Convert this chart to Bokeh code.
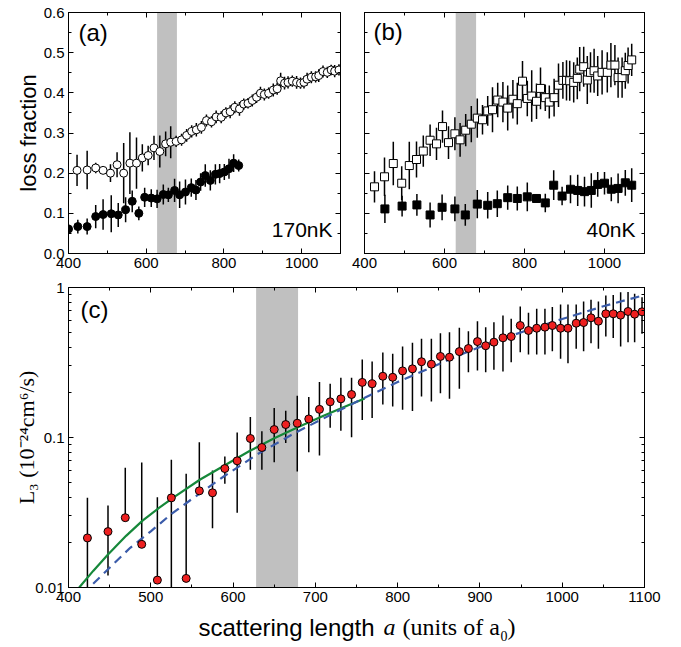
import math
from bokeh.plotting import figure
from bokeh.models import (LinearAxis, LogAxis, Range1d, SingleIntervalTicker, FixedTicker,
                          CustomJSTickFormatter, NumeralTickFormatter, Label, BoxAnnotation)
from bokeh.layouts import column, row
from bokeh.embed import file_html
from bokeh.resources import INLINE

# ---------------- data ----------------
BAND = [628, 679]

# (a) 170 nK
a_open_x = [422, 448, 470, 489, 508, 525, 542, 558, 575, 590, 605, 620, 635, 650, 663, 677, 691, 704,
            717, 729, 742, 755, 768, 780, 793, 805, 816, 828, 840, 851, 862, 873, 884, 894, 904, 915,
            927, 937, 946, 956, 965, 976, 987, 997, 1006, 1014, 1025, 1036, 1044, 1055, 1066, 1076,
            1085, 1096]
a_open_y = [0.207, 0.208, 0.213, 0.207, 0.200, 0.221, 0.200, 0.225, 0.225, 0.238, 0.244, 0.263, 0.254,
            0.273, 0.277, 0.279, 0.283, 0.294, 0.304, 0.308, 0.314, 0.331, 0.328, 0.340, 0.339, 0.350,
            0.353, 0.364, 0.360, 0.372, 0.374, 0.381, 0.389, 0.399, 0.396, 0.399, 0.407, 0.410, 0.430,
            0.424, 0.426, 0.429, 0.426, 0.424, 0.426, 0.434, 0.439, 0.440, 0.443, 0.453, 0.451, 0.457,
            0.454, 0.457]
a_open_err = [0.039, 0.048, 0.013, 0.008, 0.022, 0.031, 0.075, 0.077, 0.064, 0.034,
              0.024, 0.030, 0.040, 0.031, 0.040, 0.014, 0.015, 0.016, 0.015, 0.017,
              0.016, 0.015, 0.014, 0.016, 0.015, 0.014, 0.016, 0.015, 0.017, 0.014,
              0.013, 0.015, 0.014, 0.016, 0.015, 0.014, 0.016, 0.015, 0.020, 0.016,
              0.015, 0.014, 0.016, 0.014, 0.015, 0.016, 0.015, 0.014, 0.016, 0.015,
              0.014, 0.013, 0.015, 0.014]
a_fill_x = [400, 424, 448, 470, 489, 510, 528, 547, 564, 581, 596, 613, 628, 644, 657, 673, 686, 701,
            716, 728, 740, 752, 765, 778, 789, 801, 813, 825, 838]
a_fill_y = [0.061, 0.067, 0.067, 0.092, 0.097, 0.099, 0.096, 0.109, 0.130, 0.100, 0.140, 0.138, 0.136,
            0.147, 0.146, 0.157, 0.146, 0.153, 0.164, 0.158, 0.178, 0.194, 0.182, 0.197, 0.199, 0.203,
            0.211, 0.225, 0.219]
a_fill_err = [0.012, 0.017, 0.020, 0.029, 0.038, 0.046, 0.030, 0.031, 0.027, 0.017, 0.024, 0.022,
              0.023, 0.025, 0.018, 0.029, 0.033, 0.031, 0.023, 0.025, 0.022, 0.028, 0.025, 0.025,
              0.024, 0.020, 0.025, 0.022, 0.015]

# (b) 40 nK
b_open_x = [425, 450, 472, 493, 512, 530, 547, 564, 580, 595, 610, 626, 639, 653, 667, 682, 695, 708,
            720, 733, 746, 758, 771, 782, 795, 807, 818, 830, 840, 852, 862, 874, 885, 896, 905, 913,
            923, 932, 938, 948, 957, 965, 974, 983, 994, 1007, 1016, 1026, 1034, 1044, 1052, 1059, 1068]
b_open_y = [0.166, 0.191, 0.224, 0.175, 0.219, 0.234, 0.255, 0.282, 0.273, 0.316, 0.276, 0.298, 0.283,
            0.307, 0.322, 0.337, 0.333, 0.355, 0.358, 0.382, 0.377, 0.362, 0.384, 0.373, 0.429, 0.386,
            0.392, 0.379, 0.411, 0.388, 0.377, 0.388, 0.419, 0.431, 0.431, 0.430, 0.426, 0.436, 0.459,
            0.465, 0.432, 0.451, 0.455, 0.442, 0.451, 0.451, 0.469, 0.469, 0.438, 0.438, 0.455, 0.468,
            0.482]
b_open_err = [0.039, 0.048, 0.054, 0.042, 0.059, 0.045, 0.039, 0.039, 0.040, 0.040,
              0.041, 0.041, 0.042, 0.040, 0.045, 0.049, 0.037, 0.037, 0.056, 0.043,
              0.050, 0.056, 0.048, 0.052, 0.050, 0.044, 0.064, 0.044, 0.052, 0.033,
              0.041, 0.047, 0.054, 0.046, 0.050, 0.050, 0.050, 0.052, 0.055, 0.050,
              0.060, 0.050, 0.055, 0.050, 0.055, 0.050, 0.055, 0.050, 0.050, 0.050,
              0.045, 0.045, 0.040]
b_fill_x = [451, 494, 531, 564, 594, 626, 652, 682, 708, 732, 758, 782, 807, 830, 852, 873, 894, 915,
            933, 950, 967, 983, 1000, 1017, 1034, 1052, 1068]
b_fill_y = [0.111, 0.118, 0.121, 0.096, 0.115, 0.111, 0.096, 0.123, 0.120, 0.124, 0.139, 0.137, 0.141,
            0.137, 0.126, 0.170, 0.143, 0.160, 0.157, 0.154, 0.157, 0.172, 0.175, 0.160, 0.162, 0.176,
            0.170]
b_fill_err = [0.035, 0.026, 0.027, 0.031, 0.032, 0.031, 0.027, 0.035, 0.033, 0.033, 0.030, 0.030,
              0.036, 0.009, 0.023, 0.037, 0.023, 0.035, 0.039, 0.037, 0.043, 0.031, 0.028, 0.030,
              0.037, 0.032, 0.042]

# (c) L3 (10^-24 cm^6/s)
c_x = [423, 448, 469, 489, 508, 525, 543, 559, 575, 590, 605, 621, 635, 650, 664, 678, 692, 705, 718,
       731, 744, 757, 769, 782, 794, 806, 818, 829, 841, 852, 863, 875, 886, 897, 907, 917, 928, 938,
       949, 959, 969, 979, 988, 998, 1007, 1017, 1026, 1035, 1044, 1053, 1062, 1071, 1080, 1088, 1097]
c_y = [0.0214, 0.0236, 0.0292, 0.0194, 0.0112, 0.0396, 0.0115, 0.0441, 0.0428, 0.0621, 0.0699, 0.0985,
       0.0858, 0.113, 0.122, 0.1245, 0.133, 0.154, 0.173, 0.181, 0.1935, 0.233, 0.228, 0.256, 0.252,
       0.278, 0.287, 0.320, 0.308, 0.347, 0.343, 0.374, 0.392, 0.436, 0.409, 0.432, 0.462, 0.471, 0.558,
       0.517, 0.535, 0.544, 0.558, 0.535, 0.535, 0.578, 0.584, 0.628, 0.596, 0.668, 0.668, 0.654, 0.692,
       0.664, 0.689]
c_hi = [0.0396, 0.0352, 0.0628, 0.068, 0.040, 0.071, 0.0573, 0.093, 0.0603, 0.0747, 0.108, 0.137, 0.110,
        0.157, 0.151, 0.19, 0.186, 0.234, 0.228, 0.25, 0.25, 0.331, 0.321, 0.369, 0.361, 0.404, 0.428,
        0.455, 0.455, 0.496, 0.503, 0.539, 0.511, 0.596, 0.544, 0.587, 0.651, 0.618, 0.747, 0.678, 0.721,
        0.721, 0.74, 0.771, 0.77, 0.77, 0.807, 0.828, 0.807, 0.885, 0.89, 0.93, 0.935, 0.91, 0.861]
c_lo = [0.005, 0.012, 0.0292, 0.0194, 0.0112, 0.005, 0.0115, 0.0441, 0.0248, 0.0491, 0.0315, 0.061,
        0.061, 0.0685, 0.092, 0.0593, 0.0798, 0.0759, 0.116, 0.111, 0.1005, 0.131, 0.135, 0.166, 0.161,
        0.153, 0.150, 0.1875, 0.174, 0.197, 0.181, 0.211, 0.272, 0.28, 0.272, 0.283, 0.275, 0.318, 0.37,
        0.357, 0.357, 0.357, 0.376, 0.335, 0.313, 0.39, 0.376, 0.425, 0.39, 0.471, 0.46, 0.404, 0.432,
        0.432, 0.491]

# theory curves
green_x = [413, 430, 448, 470, 490, 510, 530, 560, 590, 620, 650, 680, 710, 740, 760]
green_y = [0.0100, 0.0129, 0.0166, 0.0221, 0.0279, 0.0339, 0.0407, 0.0525, 0.0653, 0.0813, 0.0989,
           0.1180, 0.1396, 0.1641, 0.1820]
blue_x = [430, 475, 500, 525, 550, 590, 630, 675, 720, 760, 800, 840, 880, 920, 960, 1000, 1050, 1100]
blue_y = [0.0106, 0.0184, 0.0237, 0.0309, 0.0389, 0.0556, 0.0776, 0.1072, 0.1429, 0.1841, 0.2344,
          0.2917, 0.3631, 0.4416, 0.5248, 0.6166, 0.7499, 0.8913]

# tick positions
lin_y_major = [0.0, 0.1, 0.2, 0.3, 0.4, 0.5, 0.6]
lin_y_minor = [0.05, 0.15, 0.25, 0.35, 0.45, 0.55]
log_y_major = [0.01, 0.1, 1]
log_y_minor = [0.02, 0.03, 0.04, 0.05, 0.06, 0.07, 0.08, 0.09, 0.2, 0.3, 0.4, 0.5, 0.6, 0.7, 0.8, 0.9]

# ---------------- styling ----------------
SANS = "Liberation Sans"
SERIF = "Liberation Serif"
BAND_COLOR = "#c0c0c0"
RED = "#ee2020"
GREEN = "#16883a"
BLUE = "#3b5caa"
LIFT = 0.38  # labels sit this many ems lower than their anchor; anchors are raised by it


def base_fig(width, height, left, right, top, bottom, y_range, y_log=False):
    p = figure(width=width, height=height, x_range=Range1d(400, 1100), y_range=y_range,
               y_axis_type="log" if y_log else "linear",
               output_backend="svg", toolbar_location=None,
               min_border_left=left, min_border_right=right,
               min_border_top=top, min_border_bottom=bottom)
    p.grid.visible = False
    p.outline_line_color = "black"
    p.background_fill_color = "white"
    p.border_fill_color = "white"
    return p


def style_axis(ax, ticker, formatter, show=True):
    ax.ticker = ticker
    ax.formatter = formatter if show else CustomJSTickFormatter(code="return ''")
    ax.major_tick_in = 5
    ax.major_tick_out = 0
    ax.minor_tick_in = 3
    ax.minor_tick_out = 0
    ax.axis_line_color = "black"
    ax.major_tick_line_color = "black"
    ax.minor_tick_line_color = "black"
    ax.major_label_text_font = SANS
    ax.major_label_text_font_size = "15px" if show else "0px"
    ax.major_label_text_color = "black"
    ax.major_label_standoff = 4 if show else 0


def frame_axes(p, xt, yt, xf, yf, show_x=True, show_y=True, log=False):
    style_axis(p.xaxis[0], xt, xf, show_x)
    style_axis(p.yaxis[0], yt, yf, show_y)
    top = LinearAxis()
    style_axis(top, xt, xf, False)
    p.add_layout(top, "above")
    right = LogAxis() if log else LinearAxis()
    style_axis(right, yt, yf, False)
    p.add_layout(right, "right")


def errbars(p, x, lo, hi, width=1.5):
    p.segment(x0=x, y0=lo, x1=x, y1=hi, line_color="black", line_width=width)


def tag(fig, text, x, y, size, font=SANS, style="normal", align="left"):
    fig.add_layout(Label(x=x, y=y, text=text, text_font=font, text_font_size="%dpx" % size,
                         text_font_style=style, text_color="black", text_align=align,
                         text_baseline="alphabetic"))


def top_y(py, size):  # page baseline -> data y of panels (a)/(b) (frame y 12..253, 0..0.6)
    return (253 - (py - LIFT * size)) / 241.0 * 0.6


lin_xt = SingleIntervalTicker(interval=200, num_minor_ticks=2)
lin_yt = FixedTicker(ticks=lin_y_major, minor_ticks=lin_y_minor)
xfmt = CustomJSTickFormatter(code="return tick.toFixed(0)")
yfmt = NumeralTickFormatter(format="0.0")

TOP_H = 275
W = 676
RB = W - 644  # right border shared by the right-hand frames

# ---- panel (a) ---- frame: x 68..340, y 12..253
pa = base_fig(348, TOP_H, 68, 8, 12, TOP_H - 253, Range1d(0, 0.6))
frame_axes(pa, lin_xt, lin_yt, xfmt, yfmt)
pa.yaxis[0].axis_label = "loss fraction"
pa.yaxis[0].axis_label_text_font = SANS
pa.yaxis[0].axis_label_text_font_style = "normal"
pa.yaxis[0].axis_label_text_font_size = "22px"
pa.yaxis[0].axis_label_text_color = "black"
pa.yaxis[0].axis_label_standoff = 0
pa.add_layout(BoxAnnotation(left=BAND[0], right=BAND[1], fill_color=BAND_COLOR, fill_alpha=1,
                            line_color=None, level="underlay"))
errbars(pa, a_open_x, [y - e for y, e in zip(a_open_y, a_open_err)],
        [y + e for y, e in zip(a_open_y, a_open_err)])
errbars(pa, a_fill_x, [y - e for y, e in zip(a_fill_y, a_fill_err)],
        [y + e for y, e in zip(a_fill_y, a_fill_err)])
pa.scatter(a_open_x, a_open_y, marker="circle", size=8, fill_color="white", line_color="black", line_width=1)
pa.scatter(a_fill_x, a_fill_y, marker="circle", size=8, fill_color="black", line_color="black")
tag(pa, "(a)", 425.7, top_y(41, 24), 24)
tag(pa, "170nK", 1079.4, top_y(237, 21), 21, align="right")

# ---- panel (b) ---- frame: x 364..644, y 12..253
pb = base_fig(W - 348, TOP_H, 16, RB, 12, TOP_H - 253, Range1d(0, 0.6))
frame_axes(pb, lin_xt, lin_yt, xfmt, yfmt, show_y=False)
pb.add_layout(BoxAnnotation(left=BAND[0], right=BAND[1], fill_color=BAND_COLOR, fill_alpha=1,
                            line_color=None, level="underlay"))
errbars(pb, b_open_x, [y - e for y, e in zip(b_open_y, b_open_err)],
        [y + e for y, e in zip(b_open_y, b_open_err)])
errbars(pb, b_fill_x, [y - e for y, e in zip(b_fill_y, b_fill_err)],
        [y + e for y, e in zip(b_fill_y, b_fill_err)])
pb.scatter(b_open_x, b_open_y, marker="square", size=8, fill_color="white", line_color="black", line_width=1)
pb.scatter(b_fill_x, b_fill_y, marker="square", size=8, fill_color="black", line_color="black")
tag(pb, "(b)", 422.5, top_y(40, 24), 24)
tag(pb, "40nK", 1077.5, top_y(237, 21), 21, align="right")

# ---- panel (c) ---- frame: x 68..644, y 287..587
C_H = 645 - TOP_H
CT, CB = 287 - TOP_H, TOP_H + C_H - 587
pc = base_fig(W, C_H, 68, RB, CT, CB, Range1d(0.01, 1), y_log=True)
c_xt = SingleIntervalTicker(interval=100, num_minor_ticks=2)
c_yt = FixedTicker(ticks=log_y_major, minor_ticks=log_y_minor)
c_yf = CustomJSTickFormatter(code="return parseFloat(tick.toPrecision(3)).toString()")
frame_axes(pc, c_xt, c_yt, xfmt, c_yf, log=True)
pc.yaxis[0].axis_label = "L\u2083 (10\u207b\u00b2\u2074cm\u2076/s)"
pc.yaxis[0].axis_label_text_font = SERIF
pc.yaxis[0].axis_label_text_font_style = "normal"
pc.yaxis[0].axis_label_text_font_size = "22px"
pc.yaxis[0].axis_label_text_color = "black"
pc.yaxis[0].axis_label_standoff = -7
pc.add_layout(BoxAnnotation(left=BAND[0], right=BAND[1], fill_color=BAND_COLOR, fill_alpha=1,
                            line_color=None, level="underlay"))
errbars(pc, c_x, c_lo, c_hi, width=1.5)
pc.line(green_x, green_y, line_color=GREEN, line_width=2.2)
pc.line(blue_x, blue_y, line_color=BLUE, line_width=2.2, line_dash="9 6")
pc.scatter(c_x, c_y, marker="circle", size=8, fill_color=RED, line_color="black", line_width=1)

# transparent text layer over (c) for the mixed-font x-axis label and the panel tag.
# Its frame is x 68..644 (same insets as (c)) and y TOP_H..645; data units are page pixels.
xlab = figure(width=W, height=C_H, x_range=Range1d(68, 644), y_range=Range1d(TOP_H + C_H, TOP_H),
              x_axis_location=None, y_axis_location=None, output_backend="svg",
              toolbar_location=None, min_border_left=68, min_border_right=RB,
              min_border_top=0, min_border_bottom=0)
xlab.grid.visible = False
xlab.outline_line_color = None
xlab.background_fill_color = None
xlab.border_fill_color = None
xlab.margin = (-C_H, 0, 0, 0)


def page_tag(text, px, py, size, font=SANS, style="normal"):
    tag(xlab, text, px, py - LIFT * size, size, font, style)


page_tag("(c)", 80, 318.5, 24)
page_tag("scattering length", 198, 636, 24)
page_tag("a", 383, 636, 24, SERIF, "italic")
page_tag("(units of a", 402, 636, 24, SERIF)
page_tag("0", 500, 641, 14, SERIF)
page_tag(")", 507, 636, 24, SERIF)

layout = column(row(pa, pb), pc, xlab)
open("out.html", "w").write(file_html(layout, INLINE))
